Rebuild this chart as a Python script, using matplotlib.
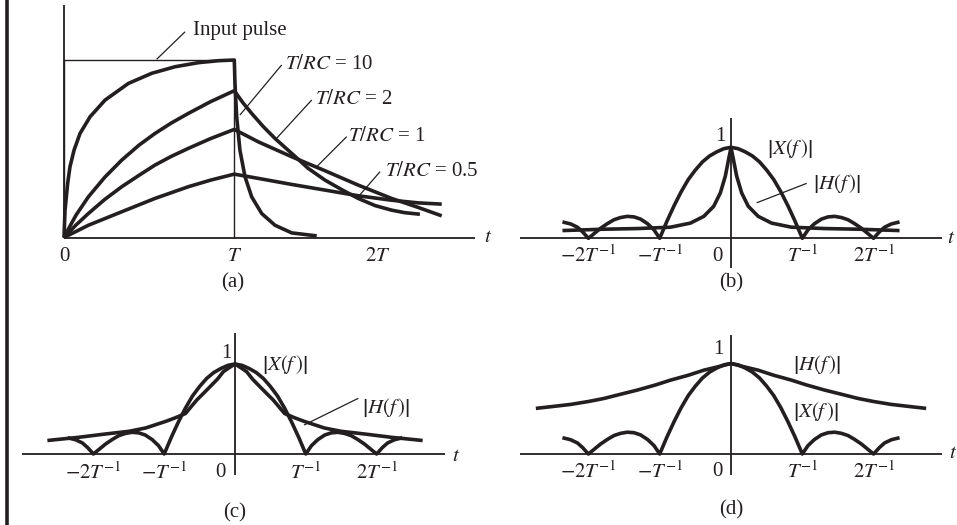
import numpy as np
import matplotlib
matplotlib.use("Agg")
import matplotlib.pyplot as plt

plt.rcParams['font.family'] = ['Liberation Serif', 'DejaVu Serif']
plt.rcParams['mathtext.fontset'] = 'stix'

INK = '#231f20'
W, H = 957, 525

# ---- (a) RC response to a rectangular pulse (time in units of T) ----
pulse_t = [0, 0, 1, 1]
pulse_v = [0, 1, 1, 0]

rc10_t = [0, 0.006, 0.0215, 0.035, 0.059, 0.094, 0.153, 0.241, 0.378, 0.515, 0.652, 0.789, 0.906, 1.0,
          1.004, 1.014, 1.033, 1.063, 1.102, 1.161, 1.239, 1.337, 1.484]
rc10_v = [0, 0.154, 0.305, 0.398, 0.492, 0.586, 0.68, 0.774, 0.868, 0.925, 0.962, 0.985, 0.996, 1.0,
          0.868, 0.68, 0.492, 0.342, 0.229, 0.135, 0.069, 0.026, 0.009]

rc2_t = [0, 0.03, 0.07, 0.143, 0.24, 0.339, 0.44, 0.534, 0.63, 0.73, 0.86, 1.0,
         1.05, 1.102, 1.17, 1.239, 1.337, 1.433, 1.533, 1.63, 1.728, 1.826, 1.924, 2.0, 2.09]
rc2_v = [0, 0.055, 0.125, 0.229, 0.34, 0.436, 0.52, 0.586, 0.645, 0.699, 0.765, 0.827,
         0.76, 0.699, 0.625, 0.558, 0.474, 0.39, 0.323, 0.27, 0.22, 0.18, 0.154, 0.14, 0.131]

rc1_t = [0, 0.07, 0.143, 0.24, 0.339, 0.44, 0.534, 0.63, 0.73, 0.86, 1.0,
         1.141, 1.337, 1.533, 1.728, 1.924, 2.081, 2.218]
rc1_v = [0, 0.07, 0.135, 0.215, 0.286, 0.35, 0.408, 0.457, 0.502, 0.557, 0.609,
         0.539, 0.455, 0.376, 0.295, 0.22, 0.169, 0.122]

rc05_t = [0, 0.143, 0.339, 0.534, 0.73, 0.86, 1.0, 1.141, 1.337, 1.533, 1.728, 1.924, 2.081, 2.218]
rc05_v = [0, 0.069, 0.145, 0.22, 0.286, 0.323, 0.357, 0.333, 0.299, 0.267, 0.235, 0.21, 0.195, 0.188]

# ---- spectra, right halves (f in units of 1/T), mirrored about f = 0 ----
x_f = [0, 0.1, 0.2, 0.3, 0.4, 0.5, 0.6, 0.7, 0.8, 0.9, 1.0,
       1.08, 1.17, 1.268, 1.36, 1.455, 1.55, 1.641, 1.73, 1.828, 1.91, 2.0,
       2.08, 2.154, 2.25, 2.364]
x_mag = [1, 0.985, 0.95, 0.905, 0.84, 0.75, 0.645, 0.51, 0.355, 0.185, 0,
         0.093, 0.16, 0.211, 0.235, 0.241, 0.228, 0.204, 0.163, 0.111, 0.058, 0,
         0.07, 0.122, 0.158, 0.18]

hb_f = [0, 0.012, 0.033, 0.079, 0.149, 0.242, 0.382, 0.569, 0.849, 1.315, 1.78, 2.364]
hb_mag = [1, 0.95, 0.87, 0.685, 0.5, 0.352, 0.241, 0.167, 0.122, 0.107, 0.1, 0.085]

hc_f = [0, 0.08, 0.164, 0.25, 0.352, 0.45, 0.54, 0.7, 0.85, 0.976, 1.262, 1.5, 1.833, 2.214, 2.65]
hc_mag = [1, 0.96, 0.915, 0.83, 0.748, 0.67, 0.6, 0.45, 0.4, 0.363, 0.289, 0.252, 0.222, 0.185, 0.15]

hd_f = [0, 0.15, 0.382, 0.6, 0.849, 1.05, 1.315, 1.55, 1.78, 2.0, 2.247, 2.5, 2.737]
hd_mag = [1, 0.97, 0.926, 0.87, 0.816, 0.765, 0.706, 0.66, 0.614, 0.58, 0.548, 0.525, 0.504]

freq_ticks = [-2, -1, 1, 2]
freq_labels = [r'$-2T^{-1}$', r'$-T^{-1}$', r'$T^{-1}$', r'$2T^{-1}$']

FS = 15
XLAB = r'$\left|X(f\,)\right|$'
HLAB = r'$\left|H(f\,)\right|$'


def mirror(x, y):
    x = np.asarray(x, float)
    y = np.asarray(y, float)
    return np.concatenate([-x[:0:-1], x]), np.concatenate([y[:0:-1], y])


def panel(box, x0, sx, y0, sy):
    l, t, r, b = box
    ax = fig.add_axes([l / W, 1 - b / H, (r - l) / W, (b - t) / H])
    ax.set_xlim((l - x0) / sx, (r - x0) / sx)
    ax.set_ylim((y0 - b) / sy, (y0 - t) / sy)
    ax.axis('off')
    return ax


def curve(ax, x, y):
    ax.plot(x, y, color=INK, lw=2.6, solid_capstyle='butt', solid_joinstyle='round')


def thin(ax, x, y, lw=1.1):
    ax.plot(x, y, color=INK, lw=lw, solid_capstyle='butt')


def txt(ax, x, y, s, ha='center', va='center', size=FS):
    ax.text(x, y, s, ha=ha, va=va, fontsize=size, color=INK)


def spectrum_axes(ax, xr, ytop, ybot, tick_y, zero_x, t_x, t_y):
    thin(ax, xr, [0, 0], 1.3)
    thin(ax, [0, 0], [ybot, ytop], 1.3)
    for xt, lab in zip(freq_ticks, freq_labels):
        txt(ax, xt, tick_y, lab)
    txt(ax, zero_x, tick_y, '0')
    txt(ax, t_x, t_y, '$t$')


fig = plt.figure(figsize=(W / 100, H / 100), dpi=100)
fig.add_artist(plt.Line2D([7 / W, 7 / W], [0, 1], transform=fig.transFigure, color=INK, lw=2.6))

# (a)
ax = panel((30, 0, 500, 300), 64, 170.3, 237.5, 177.5)
thin(ax, [0, 2.413], [0, 0], 1.3)
thin(ax, [0, 0], [0, 1.31], 1.3)
thin(ax, pulse_t, pulse_v, 1.0)
for tt, vv in [(rc10_t, rc10_v), (rc2_t, rc2_v), (rc1_t, rc1_v), (rc05_t, rc05_v)]:
    curve(ax, tt, vv)
txt(ax, 0.759, 1.169, 'Input pulse', ha='left')
thin(ax, [0.544, 0.711], [1.004, 1.159], 0.9)
labels_a = [('$T/RC$ = 10', 1.298, 0.977, [1.033, 1.278], [0.69, 0.972]),
            ('$T/RC$ = 2', 1.474, 0.775, [1.239, 1.455], [0.549, 0.775]),
            ('$T/RC$ = 1', 1.669, 0.568, [1.484, 1.66], [0.399, 0.568]),
            ('$T/RC$ = 0.5', 1.885, 0.371, [1.728, 1.856], [0.23, 0.371])]
for s, lx, ly, kx, ky in labels_a:
    txt(ax, lx, ly, s, ha='left')
    thin(ax, kx, ky, 0.9)
txt(ax, 0, -0.108, '0')
txt(ax, 1, -0.108, '$T$')
txt(ax, 1.844, -0.108, '$2T$')
txt(ax, 2.49, 0.0, '$t$')
txt(ax, 0.992, -0.256, '(a)')

# (b)
ax = panel((505, 100, 957, 300), 731, 71.3, 238.3, 91)
spectrum_axes(ax, [-2.96, 2.955], 1.32, -0.33, -0.2, -0.19, 3.09, 0.0)
curve(ax, *mirror(x_f, x_mag))
curve(ax, *mirror(hb_f, hb_mag))
txt(ax, -0.154, 1.116, '1')
txt(ax, 0.5, 0.99, XLAB, ha='left')
txt(ax, 1.15, 0.597, HLAB, ha='left')
thin(ax, [0.36, 1.062], [0.39, 0.604], 0.9)
txt(ax, 0, -0.49, '(b)')

# (c)
ax = panel((15, 310, 480, 525), 235, 70.8, 454, 90)
spectrum_axes(ax, [-3.01, 2.97], 1.34, -0.233, -0.211, -0.21, 3.12, -0.03)
curve(ax, *mirror(x_f, x_mag))
curve(ax, *mirror(hc_f, hc_mag))
txt(ax, -0.12, 1.12, '1')
txt(ax, 0.381, 0.989, XLAB, ha='left')
txt(ax, 1.794, 0.522, HLAB, ha='left')
thin(ax, [0.975, 1.742], [0.322, 0.619], 0.9)
txt(ax, 0, -0.656, '(c)')

# (d)
ax = panel((505, 310, 957, 525), 731, 71.3, 454, 90.5)
spectrum_axes(ax, [-2.96, 2.955], 1.32, -0.23, -0.196, -0.19, 3.12, 0.0)
curve(ax, *mirror(x_f, x_mag))
curve(ax, *mirror(hd_f, hd_mag))
txt(ax, -0.18, 1.15, '1')
txt(ax, 0.87, 0.994, HLAB, ha='left')
txt(ax, 0.87, 0.475, XLAB, ha='left')
txt(ax, 0, -0.62, '(d)')

fig.savefig('out.png', dpi=100, facecolor='white')
